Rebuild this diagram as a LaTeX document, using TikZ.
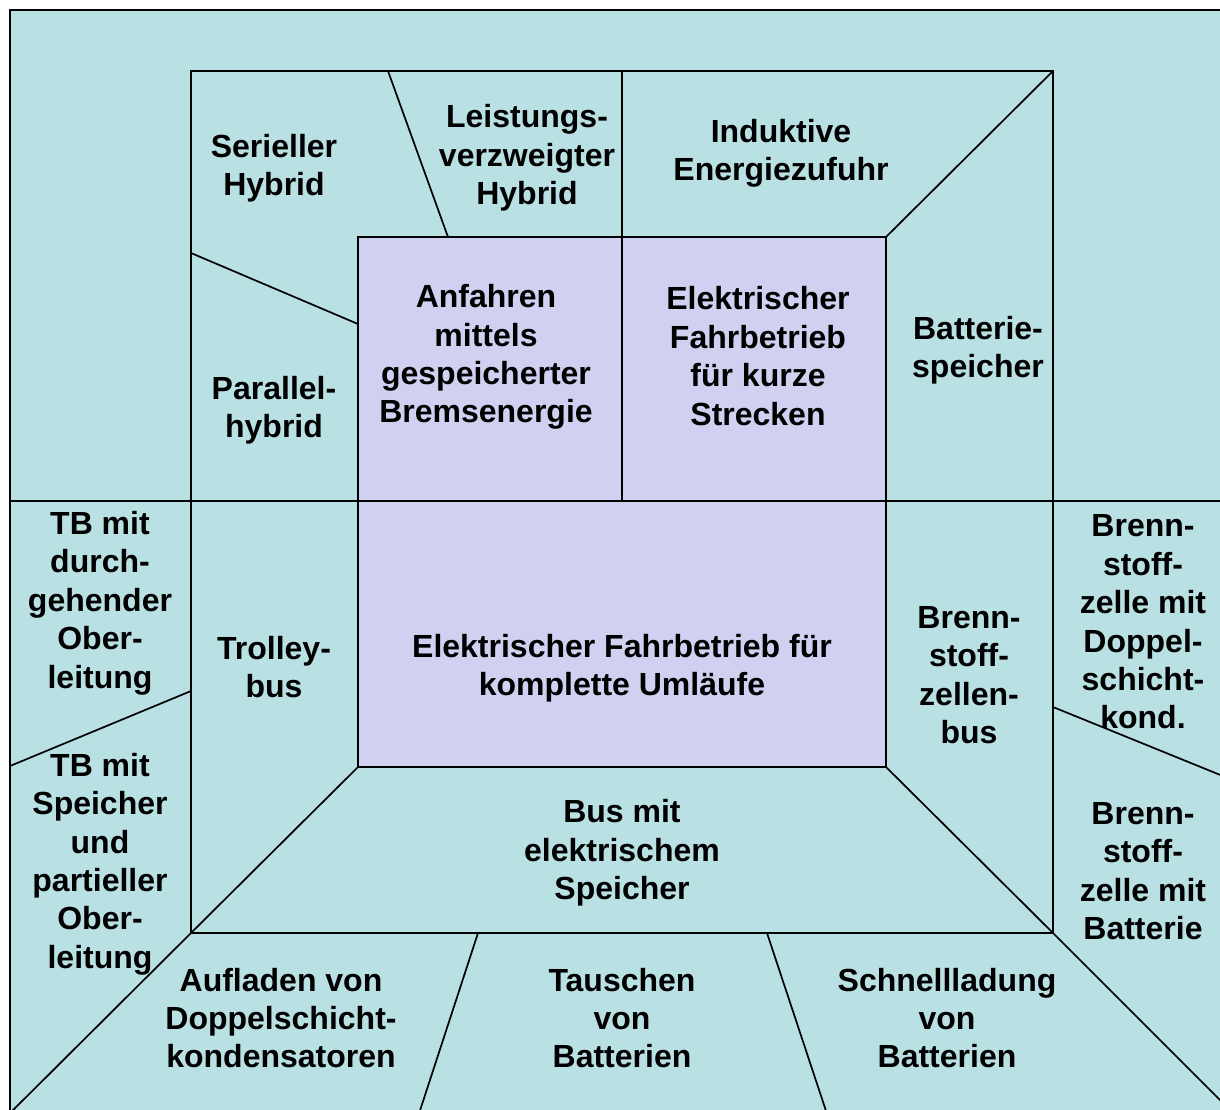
\documentclass[tikz,border=0pt]{standalone}
\usepackage{fontspec}
\setmainfont{Liberation Sans}
\definecolor{tealbg}{RGB}{185,224,227}
\definecolor{lavbg}{RGB}{208,208,240}
\begin{document}
\begin{tikzpicture}[x=1pt,y=-1pt,
  lbl/.style={align=center,inner sep=0pt,font=\fontsize{32}{38.4}\selectfont\bfseries},
  edge/.style={line width=1.7pt,line cap=butt,line join=miter}]
\useasboundingbox (0,0) rectangle (1220,1109);
\clip (0,0) rectangle (1220,1109);
\fill[white] (0,0) rectangle (1220,1109);
% outer frame
\coordinate (O1) at (10,10);
\coordinate (O3) at (1245,1135);
\draw[edge,fill=tealbg] (O1) rectangle (O3);
% middle and inner frames
\coordinate (M1) at (191,71);
\coordinate (M2) at (1053,71);
\coordinate (M3) at (1053,933);
\coordinate (M4) at (191,933);
\coordinate (I1) at (358,237);
\coordinate (I2) at (886,237);
\coordinate (I3) at (886,767);
\coordinate (I4) at (358,767);
\fill[lavbg] (I1) rectangle (I3);
\draw[edge] (M1) rectangle (M3);
\draw[edge] (I1) rectangle (I3);
% dividing lines
\coordinate (HL) at (10,501);
\coordinate (HR) at (1245,501);
\draw[edge] (HL) -- (HR);
\coordinate (VT) at (622,71);
\coordinate (VB) at (622,501);
\draw[edge] (VT) -- (VB);
\coordinate (A1) at (388,71);
\coordinate (A2) at (448,237);
\draw[edge] (A1) -- (A2);
\coordinate (B1) at (191,253);
\coordinate (B2) at (358,324);
\draw[edge] (B1) -- (B2);
\draw[edge] (M2) -- (I2);
\coordinate (C1) at (10,766);
\coordinate (C2) at (191,691);
\draw[edge] (C1) -- (C2);
\coordinate (D1) at (1053,707);
\coordinate (D2) at (1245,785);
\draw[edge] (D1) -- (D2);
\coordinate (E2) at (-12,1135);
\draw[edge] (I4) -- (M4) -- (E2);
\coordinate (F2) at (1255,1135);
\draw[edge] (I3) -- (M3) -- (F2);
\coordinate (G1) at (478,933);
\coordinate (G2) at (412,1135);
\draw[edge] (G1) -- (G2);
\coordinate (K1) at (767,933);
\coordinate (K2) at (834,1135);
\draw[edge] (K1) -- (K2);
% labels
\node[lbl] (serhyb) at (274,168) {Serieller\\Hybrid};
\node[lbl] (leihyb) at (527,158) {Leistungs-\\verzweigter\\Hybrid};
\node[lbl] (induk) at (781,153) {Induktive\\Energiezufuhr};
\node[lbl] (parhyb) at (274,410) {Parallel-\\hybrid};
\node[lbl] (anfahr) at (486,357) {Anfahren\\mittels\\gespeicherter\\Bremsenergie};
\node[lbl] (kurz) at (758,356) {Elektrischer\\Fahrbetrieb\\für kurze\\Strecken};
\node[lbl] (batsp) at (978,350) {Batterie-\\speicher};
\node[lbl] (tbdurch) at (100,603) {TB mit\\durch-\\gehender\\Ober-\\leitung};
\node[lbl] (trolley) at (274,667) {Trolley-\\bus};
\node[lbl] (komplett) at (622,668) {Elektrischer Fahrbetrieb für\\komplette Umläufe};
\node[lbl] (bzbus) at (969,675) {Brenn-\\stoff-\\zellen-\\bus};
\node[lbl] (bzdsk) at (1143,622) {Brenn-\\stoff-\\zelle mit\\Doppel-\\schicht-\\kond.};
\node[lbl] (tbspei) at (100,864) {TB mit\\Speicher\\und\\partieller\\Ober-\\leitung};
\node[lbl] (busspei) at (622,853) {Bus mit\\elektrischem\\Speicher};
\node[lbl] (bzbat) at (1143,871) {Brenn-\\stoff-\\zelle mit\\Batterie};
\node[lbl] (aufl) at (281,1018) {Aufladen von\\Doppelschicht-\\kondensatoren};
\node[lbl] (tausch) at (622,1018) {Tauschen\\von\\Batterien};
\node[lbl] (schnell) at (947,1018) {Schnellladung\\von\\Batterien};
\end{tikzpicture}
\end{document}
